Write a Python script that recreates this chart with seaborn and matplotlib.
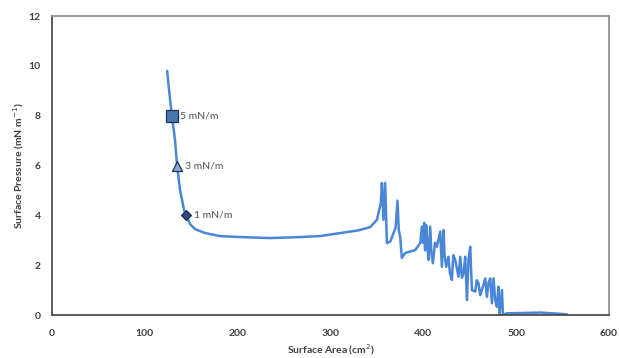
import numpy as np
import pandas as pd
import matplotlib
matplotlib.use("Agg")
import matplotlib.pyplot as plt
import seaborn as sns

# --- isotherm trace ---
AREA = [124, 127.2, 129.3, 132.5, 134.7, 137.9, 142.2, 144.4, 148.7, 154.1,
        164.9, 181, 202.6, 234.9, 267.2, 288.8, 310.3, 330, 342.7, 349.9, 354.2,
        355.3, 357, 358.8, 360.7, 364.2, 370, 372.1, 373.5, 375, 376.8, 380.4, 391.2,
        396.6, 398.4, 399.6, 400.9, 401.8, 403, 404.2, 405.5, 407.3, 408.6, 410.2,
        412.5, 414.5, 418.1, 419.9, 421.7, 422.8, 424.6, 427, 428.5, 430.7, 432.2,
        434.3, 437.8, 439.7, 441.5, 443.2, 445.0, 446.9, 448.6, 450.4, 452.3,
        455.8, 457.5, 459.4, 461.2, 463, 466.6, 468.4, 470.2, 472, 473.8,
        475.5, 477.4, 479.2, 480.9, 482, 484.6, 485.7, 490, 504, 526, 547, 555]
PRESSURE = [9.8, 8.63, 7.95, 7.03, 6.0, 5.02, 4.22, 4.02, 3.65, 3.45,
            3.29, 3.17, 3.13, 3.09, 3.13, 3.17, 3.29, 3.4, 3.53, 3.82, 4.5,
            5.3, 3.82, 5.3, 2.89, 2.94, 3.5, 4.59, 3.4, 3.14, 2.29, 2.49, 2.61,
            2.89, 3.55, 2.9, 3.7, 2.6, 3.61, 2.8, 2.21, 3.55, 2.5, 2.08,
            2.9, 2.74, 3.35, 1.94, 3.41, 2.4, 1.94, 2.34, 1.7, 1.41, 2.4,
            2.21, 1.54, 2.34, 1.5, 1.67, 2.34, 0.6, 2.21, 2.74, 1.0,
            0.94, 1.4, 1.27, 0.8, 1.0, 1.47, 0.73, 1.3, 1.47, 0.47,
            1.47, 0.6, 0.33, 1.14, 0.0, 1.0, 0.0, 0.07, 0.08, 0.1, 0.05, 0.02]

# --- deposition points ---
MARK_AREA = [129.3, 134.7, 144.4]
MARK_PRESSURE = [8, 6, 4]
MARK_LABELS = ["5 mN/m", "3 mN/m", "1 mN/m"]

X_TICKS = [0, 100, 200, 300, 400, 500, 600]
Y_TICKS = [0, 2, 4, 6, 8, 10, 12]

sns.set_theme(style="white")
plt.rcParams["font.family"] = ["Lato", "DejaVu Sans"]

df = pd.DataFrame({"area": AREA, "pressure": PRESSURE})
marks = pd.DataFrame({"area": MARK_AREA, "pressure": MARK_PRESSURE, "label": MARK_LABELS})

fig = plt.figure(figsize=(6.19, 3.58), dpi=100)
ax = fig.add_axes([0.084, 0.12, 0.9, 0.835])

sns.lineplot(data=df, x="area", y="pressure", sort=False, ax=ax,
             color="#4a86d8", linewidth=1.8)

styles = [("s", "#4a78b0", 8), ("^", "#86a9d8", 7.5), ("D", "#2a4a7a", 5.5)]
for (_, row), (m, c, s) in zip(marks.iterrows(), styles):
    ax.plot(row["area"], row["pressure"], marker=m, color=c, markersize=s,
            markeredgecolor="#1f3050", markeredgewidth=0.9, linestyle="none")
    ax.text(row["area"] + 9, row["pressure"], row["label"], fontsize=7.5,
            color="#505050", va="center", ha="left")

ax.set_xlim(0, 600)
ax.set_ylim(0, 12)
ax.set_xticks(X_TICKS)
ax.set_yticks(Y_TICKS)
ax.tick_params(direction="in", length=3, width=0.8, colors="#404040",
               labelsize=7.5)
ax.tick_params(axis="x", pad=10)
ax.tick_params(axis="y", pad=8)
for lab in ax.get_xticklabels() + ax.get_yticklabels():
    lab.set_fontweight("bold")
for sp in ax.spines.values():
    sp.set_color("#8a8a8a")
    sp.set_linewidth(1.2)
ax.spines["bottom"].set_color("#404040")
ax.spines["left"].set_color("#404040")

ax.set_xlabel("Surface Area (cm$^2$)", fontsize=7.5, fontweight="bold",
              color="#404040", labelpad=3)
ax.set_ylabel("Surface Pressure (mN m$^{-1}$)", fontsize=7.5, fontweight="bold",
              color="#404040", labelpad=2)

fig.savefig("out.png", dpi=100)
